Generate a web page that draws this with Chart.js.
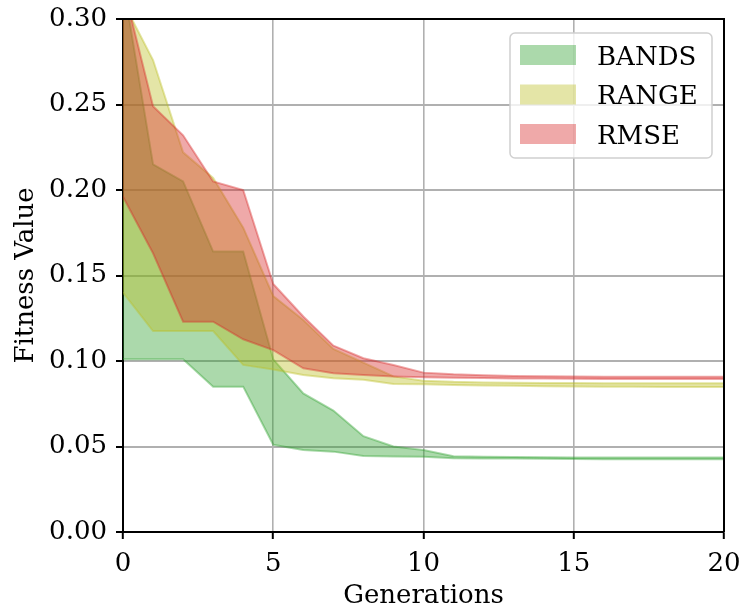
<!DOCTYPE html>
<html>
<head>
<meta charset="utf-8">
<script src="https://cdn.jsdelivr.net/npm/chart.js@4.4.1/dist/chart.umd.min.js"></script>
<style>
  html, body { margin: 0; padding: 0; background: #fff; }
  #wrap { width: 745px; height: 607px; }
</style>
</head>
<body>
<div id="wrap"><canvas id="ch1" width="745" height="607"></canvas></div>
<script>
// dedomena - diavasmena apo to grafhma
var gens = [0,1,2,3,4,5,6,7,8,9,10,11,12,13,14,15,16,17,18,19,20];

var bandsLo = [0.101,0.101,0.101,0.085,0.085,0.051,0.048,0.047,0.0445,0.0442,0.044,0.0432,0.043,0.043,0.0428,0.0427,0.0426,0.0425,0.0425,0.0425,0.0425];
var bandsHi = [0.322,0.215,0.205,0.164,0.164,0.101,0.081,0.071,0.056,0.050,0.048,0.0443,0.0440,0.0438,0.0437,0.0436,0.0436,0.0435,0.0435,0.0435,0.0435];

var rangeLo = [0.140,0.1175,0.1175,0.1175,0.0977,0.0950,0.0918,0.0899,0.0890,0.0866,0.0864,0.0860,0.0857,0.0855,0.0853,0.0851,0.0850,0.0849,0.0848,0.0848,0.0848];
var rangeHi = [0.310,0.276,0.222,0.207,0.178,0.138,0.124,0.107,0.099,0.091,0.0885,0.0878,0.0875,0.0873,0.0872,0.0871,0.0870,0.0870,0.0870,0.0870,0.0870];

var rmseLo = [0.196,0.163,0.123,0.123,0.1127,0.1064,0.0957,0.0928,0.0918,0.0910,0.0905,0.0902,0.0900,0.0898,0.0897,0.0896,0.0895,0.0895,0.0895,0.0895,0.0895];
var rmseHi = [0.320,0.249,0.232,0.205,0.200,0.145,0.126,0.109,0.1016,0.0977,0.0932,0.0922,0.0916,0.0913,0.0911,0.0909,0.0908,0.0908,0.0908,0.0908,0.0908];

var names = ['BANDS','RANGE','RMSE'];
var cols = ['rgba(44,160,44,0.4)','rgba(188,189,34,0.4)','rgba(214,39,40,0.4)'];

var FONT = "'DejaVu Serif', serif";
var FS = 26;

function pts(arr) { return gens.map(function(g, i){ return {x: g, y: arr[i]}; }); }

// to RMSE prwto gia na zwgrafistei pio panw
function band(name, hi, lo, c) {
  return [
    { label: name, data: pts(hi), fill: '+1', backgroundColor: c, borderColor: c, borderWidth: 2, pointRadius: 0, tension: 0 },
    { label: name + '_lo', data: pts(lo), fill: false, backgroundColor: c, borderColor: c, borderWidth: 2, pointRadius: 0, tension: 0 }
  ];
}
var datasets = [].concat(
  band(names[2], rmseHi, rmseLo, cols[2]),
  band(names[1], rangeHi, rangeLo, cols[1]),
  band(names[0], bandsHi, bandsLo, cols[0])
);

// plaisio (panw kai deksia) + legend mesa sto plot
var extras = {
  id: 'extras',
  afterDraw: function(chart) {
    var ctx = chart.ctx, a = chart.chartArea;
    ctx.save();
    ctx.strokeStyle = '#000';
    ctx.lineWidth = 2;
    ctx.beginPath();
    ctx.moveTo(a.left, a.top); ctx.lineTo(a.right, a.top); ctx.lineTo(a.right, a.bottom);
    ctx.stroke();

    // legend
    var bx = 510, by = 33, bw = 202, bh = 125, r = 5;
    ctx.fillStyle = 'rgba(255,255,255,0.8)';
    ctx.strokeStyle = '#d0d0d0';
    ctx.lineWidth = 1.5;
    ctx.beginPath();
    ctx.moveTo(bx + r, by);
    ctx.arcTo(bx + bw, by, bx + bw, by + bh, r);
    ctx.arcTo(bx + bw, by + bh, bx, by + bh, r);
    ctx.arcTo(bx, by + bh, bx, by, r);
    ctx.arcTo(bx, by, bx + bw, by, r);
    ctx.closePath();
    ctx.fill(); ctx.stroke();

    ctx.font = FS + 'px ' + FONT;
    ctx.textBaseline = 'alphabetic';
    for (var i = 0; i < 3; i++) {
      var yy = 55 + i * 39.5;
      ctx.fillStyle = cols[i];
      ctx.fillRect(520, yy - 10, 56, 20);
      ctx.fillStyle = '#000';
      ctx.fillText(names[i], 597, yy + 9.5);
    }
    ctx.restore();
  }
};

var chart = new Chart(document.getElementById('ch1').getContext('2d'), {
  type: 'line',
  data: { datasets: datasets },
  options: {
    responsive: false,
    animation: false,
    layout: { padding: { top: 19, right: 21, left: 0, bottom: 0 } },
    plugins: { legend: { display: false }, tooltip: { enabled: false } },
    scales: {
      x: {
        type: 'linear', min: 0, max: 20,
        afterFit: function(s) { s.height = 75; s.paddingLeft = 0; s.paddingRight = 0; },
        ticks: { stepSize: 5, color: '#000', padding: 10, font: { family: FONT, size: FS } },
        grid: { color: '#b0b0b0', lineWidth: 1.6, tickColor: '#000', tickLength: 7, tickWidth: 2 },
        border: { display: true, color: '#000', width: 2 },
        title: { display: true, text: 'Generations', color: '#000', padding: { top: 0, bottom: -5 }, font: { family: FONT, size: FS } }
      },
      y: {
        min: 0, max: 0.3,
        afterFit: function(s) { s.width = 123; s.paddingTop = 0; s.paddingBottom = 0; },
        ticks: { stepSize: 0.05, color: '#000', padding: 9, font: { family: FONT, size: FS },
          callback: function(v) { return v.toFixed(2); } },
        grid: { color: '#b0b0b0', lineWidth: 2, tickColor: '#000', tickLength: 7, tickWidth: 2 },
        border: { display: true, color: '#000', width: 2 },
        title: { display: true, text: 'Fitness Value', color: '#000', padding: { top: 11, bottom: 0 }, font: { family: FONT, size: FS } }
      }
    }
  },
  plugins: [extras]
});
</script>
</body>
</html>
